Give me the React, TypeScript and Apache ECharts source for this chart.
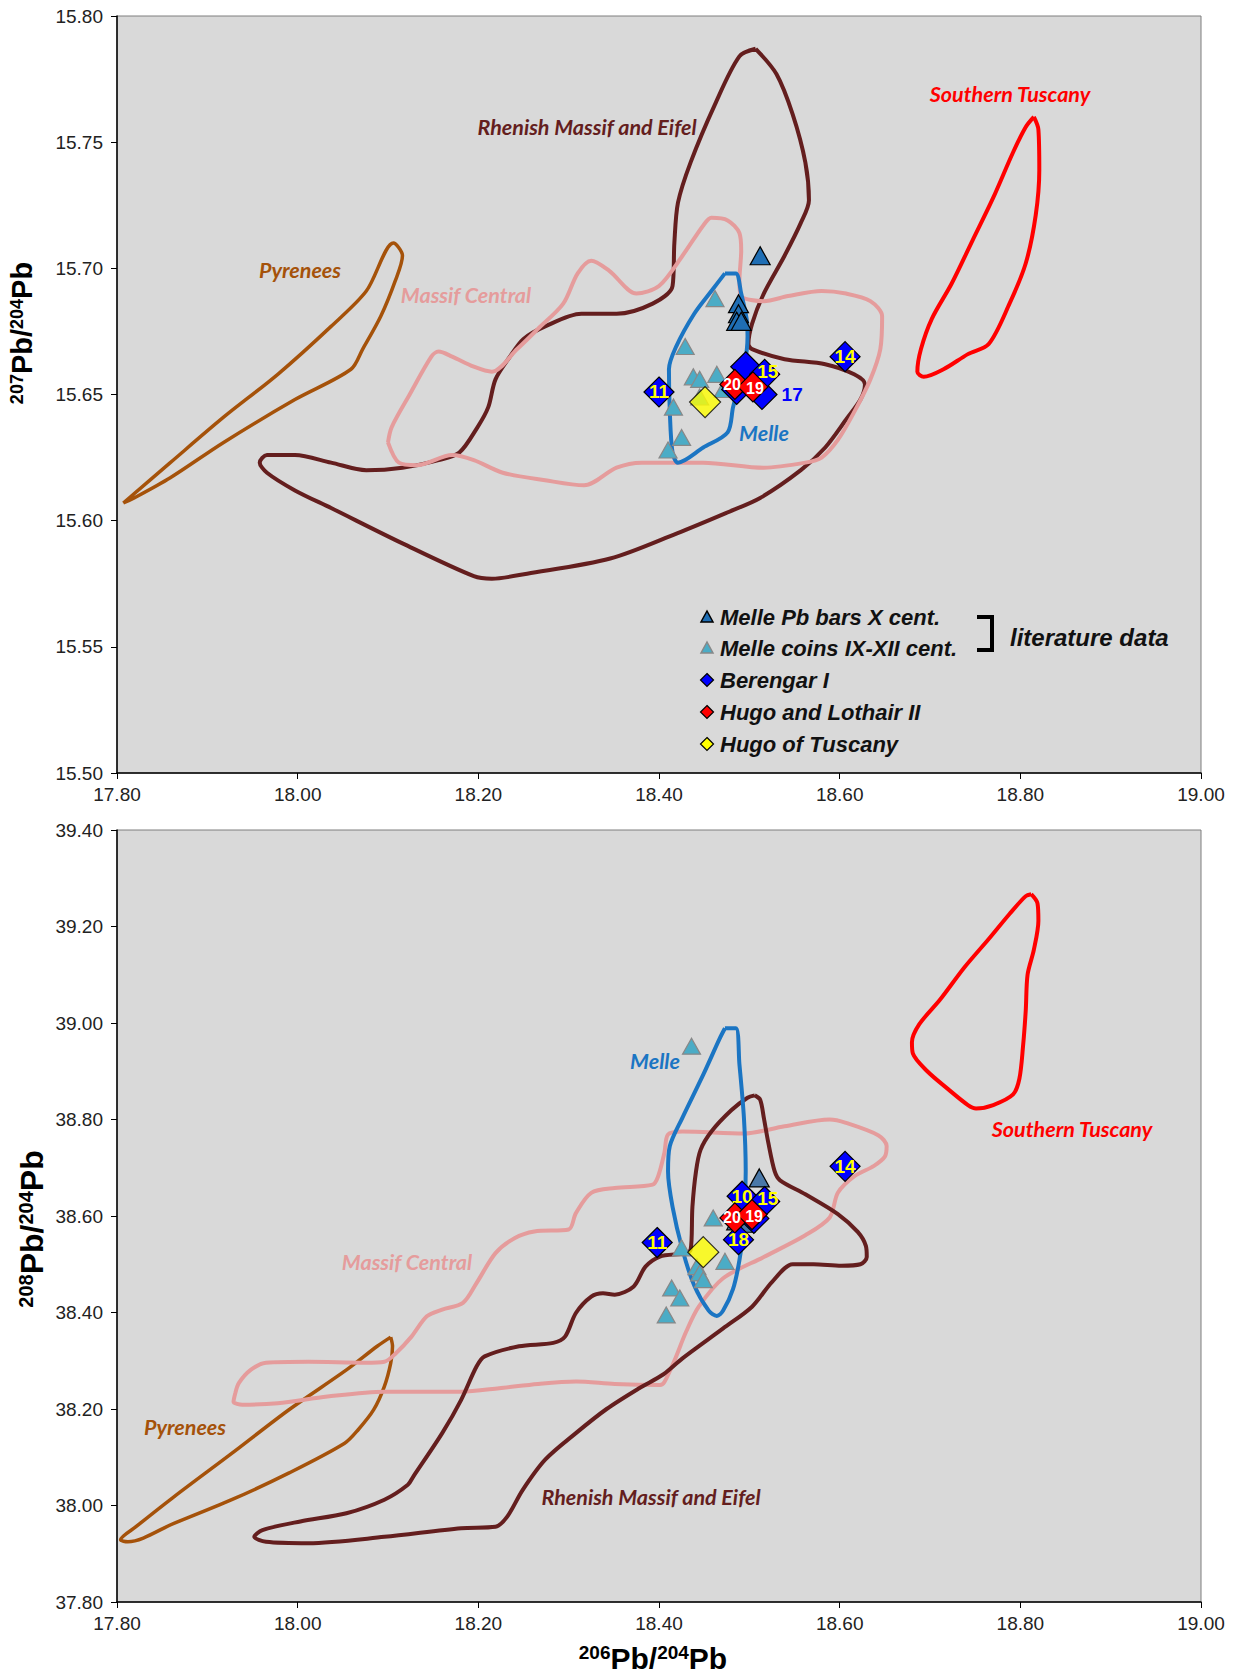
import React, { useEffect, useRef } from "react";
import * as echarts from "echarts";

// ---------- data ----------
const xMin = 17.8, xMax = 19.0, xStep = 0.2;
const yTopMin = 15.5, yTopMax = 15.8, yTopStep = 0.05;
const yBotMin = 37.8, yBotMax = 39.4, yBotStep = 0.2;

// Top panel (206/204 vs 207/204) regions
const rhenishTop = [[18.507,15.787],[18.530,15.777],[18.548,15.761],[18.562,15.742],[18.566,15.727],[18.557,15.718],[18.539,15.705],[18.516,15.690],[18.503,15.678],[18.499,15.670],[18.503,15.668],[18.539,15.664],[18.584,15.662],[18.616,15.658],[18.628,15.654],[18.623,15.648],[18.607,15.640],[18.584,15.629],[18.557,15.620],[18.512,15.609],[18.474,15.603],[18.420,15.595],[18.346,15.585],[18.254,15.579],[18.215,15.577],[18.195,15.578],[18.116,15.591],[18.037,15.605],[17.997,15.612],[17.966,15.619],[17.958,15.623],[17.966,15.626],[17.997,15.626],[18.037,15.623],[18.076,15.620],[18.116,15.621],[18.156,15.624],[18.179,15.627],[18.199,15.637],[18.211,15.645],[18.219,15.656],[18.235,15.665],[18.250,15.672],[18.274,15.677],[18.314,15.682],[18.353,15.682],[18.393,15.686],[18.415,15.693],[18.417,15.710],[18.421,15.726],[18.435,15.742],[18.462,15.765],[18.489,15.784]];
const massifCentralTop = [[18.100,15.631],[18.104,15.637],[18.124,15.650],[18.148,15.665],[18.156,15.667],[18.171,15.665],[18.195,15.661],[18.215,15.659],[18.243,15.668],[18.266,15.676],[18.294,15.686],[18.310,15.698],[18.325,15.703],[18.345,15.699],[18.375,15.690],[18.400,15.693],[18.426,15.705],[18.449,15.717],[18.458,15.720],[18.476,15.719],[18.489,15.714],[18.491,15.707],[18.489,15.695],[18.491,15.689],[18.516,15.687],[18.543,15.689],[18.580,15.691],[18.607,15.690],[18.634,15.687],[18.647,15.681],[18.645,15.668],[18.634,15.656],[18.616,15.643],[18.598,15.632],[18.580,15.625],[18.562,15.623],[18.516,15.621],[18.449,15.623],[18.381,15.623],[18.353,15.621],[18.317,15.614],[18.274,15.616],[18.227,15.619],[18.195,15.624],[18.171,15.626],[18.132,15.622],[18.112,15.623]];
const melleTop = [[18.473,15.698],[18.485,15.698],[18.491,15.690],[18.497,15.680],[18.498,15.673],[18.495,15.662],[18.489,15.654],[18.482,15.645],[18.476,15.635],[18.449,15.629],[18.421,15.623],[18.415,15.627],[18.412,15.643],[18.411,15.660],[18.419,15.669],[18.439,15.682],[18.458,15.691]];
const pyreneesTop = [[17.807,15.607],[17.859,15.623],[17.918,15.641],[17.978,15.658],[18.037,15.677],[18.076,15.691],[18.106,15.710],[18.116,15.705],[18.108,15.695],[18.092,15.681],[18.072,15.668],[18.059,15.660],[17.997,15.648],[17.918,15.631],[17.859,15.617],[17.819,15.609]];
const tuscanyTop = [[18.815,15.760],[18.820,15.755],[18.821,15.739],[18.817,15.721],[18.806,15.702],[18.788,15.686],[18.765,15.670],[18.742,15.666],[18.715,15.660],[18.693,15.657],[18.686,15.659],[18.690,15.668],[18.702,15.680],[18.724,15.694],[18.747,15.711],[18.770,15.728],[18.792,15.746],[18.806,15.756]];

// Bottom panel (206/204 vs 208/204) regions
const pyreneesBot = [[18.103,38.349],[18.105,38.330],[18.103,38.295],[18.096,38.247],[18.084,38.198],[18.067,38.157],[18.052,38.129],[17.990,38.067],[17.927,38.012],[17.863,37.963],[17.812,37.925],[17.804,37.929],[17.821,37.956],[17.863,38.018],[17.927,38.108],[17.990,38.198],[18.054,38.281],[18.088,38.330]];
const massifCentralBot = [[17.931,38.233],[17.935,38.254],[17.948,38.281],[17.965,38.296],[18.012,38.298],[18.075,38.296],[18.096,38.298],[18.109,38.316],[18.126,38.350],[18.143,38.392],[18.160,38.406],[18.183,38.420],[18.198,38.461],[18.219,38.523],[18.240,38.554],[18.262,38.568],[18.300,38.572],[18.308,38.606],[18.325,38.648],[18.351,38.658],[18.393,38.665],[18.399,38.682],[18.406,38.731],[18.410,38.769],[18.426,38.775],[18.494,38.771],[18.539,38.786],[18.589,38.800],[18.607,38.793],[18.643,38.767],[18.652,38.745],[18.650,38.723],[18.638,38.704],[18.616,38.682],[18.598,38.648],[18.589,38.597],[18.562,38.560],[18.516,38.515],[18.471,38.471],[18.444,38.412],[18.430,38.360],[18.417,38.300],[18.406,38.256],[18.401,38.250],[18.351,38.252],[18.308,38.257],[18.266,38.252],[18.223,38.243],[18.181,38.236],[18.139,38.236],[18.096,38.236],[18.033,38.226],[17.978,38.212],[17.939,38.209],[17.929,38.215]];
const rhenishBot = [[18.506,38.850],[18.512,38.841],[18.516,38.804],[18.521,38.752],[18.528,38.693],[18.534,38.674],[18.562,38.645],[18.598,38.604],[18.620,38.567],[18.629,38.538],[18.630,38.515],[18.623,38.500],[18.602,38.497],[18.571,38.500],[18.548,38.500],[18.525,38.463],[18.503,38.412],[18.471,38.367],[18.426,38.305],[18.405,38.272],[18.378,38.243],[18.342,38.200],[18.308,38.150],[18.274,38.095],[18.249,38.032],[18.232,37.977],[18.219,37.956],[18.181,37.953],[18.096,37.935],[18.012,37.922],[17.965,37.925],[17.952,37.935],[17.961,37.949],[18.003,37.967],[18.054,37.984],[18.096,38.012],[18.122,38.043],[18.128,38.060],[18.160,38.150],[18.181,38.219],[18.198,38.288],[18.207,38.309],[18.245,38.330],[18.283,38.337],[18.296,38.350],[18.308,38.399],[18.325,38.433],[18.338,38.440],[18.351,38.437],[18.372,38.454],[18.385,38.495],[18.401,38.516],[18.435,38.530],[18.437,38.619],[18.441,38.693],[18.446,38.737],[18.458,38.775],[18.480,38.819],[18.498,38.845]];
const melleBot = [[18.473,38.989],[18.485,38.989],[18.489,38.915],[18.494,38.804],[18.496,38.693],[18.494,38.582],[18.489,38.508],[18.482,38.449],[18.471,38.404],[18.464,38.393],[18.455,38.404],[18.439,38.456],[18.426,38.530],[18.415,38.619],[18.410,38.693],[18.412,38.745],[18.426,38.804],[18.449,38.893],[18.467,38.967]];
const tuscanyBot = [[18.812,39.267],[18.819,39.248],[18.820,39.212],[18.815,39.152],[18.808,39.100],[18.806,39.026],[18.803,38.952],[18.799,38.885],[18.792,38.852],[18.770,38.830],[18.751,38.823],[18.742,38.830],[18.720,38.863],[18.697,38.900],[18.681,38.937],[18.680,38.960],[18.688,38.997],[18.711,39.048],[18.738,39.115],[18.765,39.174],[18.788,39.226],[18.806,39.263]];

// Samples
const pbBarsTop = [[18.512,15.705],[18.488,15.686],[18.488,15.682],[18.486,15.679],[18.491,15.679]];
const pbBarsBot = [[18.490,38.615],[18.492,38.600],[18.486,38.590],[18.495,38.585],[18.511,38.679]];
const coinsTop = [[18.462,15.688],[18.429,15.669],[18.438,15.657],[18.445,15.656],[18.464,15.658],[18.471,15.652],[18.445,15.649],[18.416,15.645],[18.425,15.633],[18.410,15.628]];
const coinsBot = [[18.436,38.952],[18.460,38.596],[18.425,38.534],[18.473,38.506],[18.442,38.495],[18.445,38.482],[18.449,38.468],[18.414,38.451],[18.423,38.430],[18.408,38.395]];
const berengarIds = ["10","18","11","14","17","15"];
const berengarTop = [[18.496,15.661],[18.486,15.652],[18.400,15.651],[18.606,15.665],[18.514,15.650],[18.517,15.658]];
const berengarBot = [[18.492,38.641],[18.488,38.551],[18.398,38.545],[18.606,38.703],[18.505,38.595],[18.517,38.630]];
const hugoLothairIds = ["20","19"];
const hugoLothairTop = [[18.484,15.654],[18.504,15.653]];
const hugoLothairBot = [[18.484,38.596],[18.503,38.603]];
const hugoTuscanyTop = [[18.451,15.647]];
const hugoTuscanyBot = [[18.449,38.525]];

const hiddenTop = ["10","18"];
const hiddenBot = ["17"];

// ---------- styles ----------
const C_RH = "#641E1E";
const C_MC = "#E59C9C";
const C_ME = "#1B75C3";
const C_PY = "#A5520A";
const C_ST = "#FF0000";
const C_PB = "#1F6EB4";
const C_CO = "#4BACC6";
const TICK_FONT = "Liberation Sans, Arial, sans-serif";
const LAB_FONT = "Lato, 'Open Sans', sans-serif";
const TITLE_FONT = "'Liberation Sans Narrow', 'Liberation Sans', Arial";
const labelShift: Record<string, number[]> = { "20": [-3, 0], "19": [2, 2], "15": [3, -3] };

function region(name: string, data: number[][], color: string, gi: number, width = 4) {
  return {
    type: "line", name, xAxisIndex: gi, yAxisIndex: gi,
    data: [...data, data[0]], symbol: "none", showSymbol: false, smooth: 0.3,
    lineStyle: { color, width }, silent: true, z: 2,
  };
}

function diamondSeries(name: string, ids: string[], pts: number[][], color: string, labelColor: string, gi: number, hidden: string[], z: number, fontSize: number, rightBlue?: string) {
  return {
    type: "scatter", name, xAxisIndex: gi, yAxisIndex: gi, z,
    symbol: "diamond", symbolSize: 30,
    itemStyle: { color, borderColor: "#000", borderWidth: 1.2, opacity: 1 },
    label: { show: true, position: "inside", formatter: "{b}", color: labelColor, fontSize, fontWeight: "bold", fontFamily: TICK_FONT },
    data: pts.map((p, i) => {
      const id = ids[i];
      const item: any = { name: id, value: p };
      if (hidden.includes(id)) item.label = { show: false };
      else if (rightBlue && id === rightBlue) item.label = { show: true, position: "right", distance: 4, color: "#0000FF", fontSize: 19 };
      else if (labelShift[id]) item.label = { show: true, offset: labelShift[id] };
      return item;
    }),
  };
}

function triSeries(name: string, pts: number[][], color: string, border: string, size: number, gi: number, z: number) {
  return {
    type: "scatter", name, xAxisIndex: gi, yAxisIndex: gi, z,
    symbol: "triangle", symbolSize: [size, size - 2],
    itemStyle: { color, borderColor: border, borderWidth: 1.2, opacity: 1 },
    data: pts,
  };
}

function regionLabel(text: string, x: number, y: number, color: string) {
  return {
    type: "text", x, y, z: 50,
    style: { text, fill: color, fontSize: 21.5, fontWeight: "bold", fontStyle: "italic", fontFamily: LAB_FONT, textAlign: "center", textVerticalAlign: "middle", align: "center", verticalAlign: "middle" },
  };
}

function isoTitle(sup1: string, sup2: string, x: number, y: number, big: number, small: number, rotate: boolean) {
  return {
    type: "text", x, y, rotation: rotate ? Math.PI / 2 : 0, z: 50,
    style: {
      text: `{s|${sup1}}{m|Pb/}{s|${sup2}}{m|Pb}`,
      textAlign: "center", textVerticalAlign: "middle", align: "center", verticalAlign: "middle",
      fill: "#000",
      rich: {
        s: { fontSize: small, fontWeight: "bold", fontFamily: TITLE_FONT, verticalAlign: "top", lineHeight: big, fill: "#000" },
        m: { fontSize: big, fontWeight: "bold", fontFamily: TITLE_FONT, verticalAlign: "bottom", lineHeight: big, fill: "#000" },
      },
    },
  };
}

function legendGraphics() {
  const x = 707, tx = 720;
  const rows = [617, 648, 680, 712, 744];
  const texts = ["Melle Pb bars X cent.", "Melle coins IX-XII cent.", "Berengar I", "Hugo and Lothair II", "Hugo of Tuscany"];
  const g: any[] = [];
  const tri = (cx: number, cy: number, fill: string, stroke: string) => ({
    type: "polygon", z: 50, shape: { points: [[cx - 6, cy + 5], [cx + 6, cy + 5], [cx, cy - 6]] }, style: { fill, stroke, lineWidth: 1.5 },
  });
  const dia = (cx: number, cy: number, fill: string) => ({
    type: "polygon", z: 50, shape: { points: [[cx, cy - 6.5], [cx + 6.5, cy], [cx, cy + 6.5], [cx - 6.5, cy]] }, style: { fill, stroke: "#000", lineWidth: 1.2 },
  });
  g.push(tri(x, rows[0], C_PB, "#000"));
  g.push(tri(x, rows[1], C_CO, "#888"));
  g.push(dia(x, rows[2], "#0000FF"));
  g.push(dia(x, rows[3], "#FF0000"));
  g.push(dia(x, rows[4], "#FFFF00"));
  texts.forEach((t, i) => {
    g.push({ type: "text", x: tx, y: rows[i], z: 50, style: { text: t, fill: "#111", fontSize: 22, fontWeight: "bold", fontStyle: "italic", fontFamily: TICK_FONT, textAlign: "left", textVerticalAlign: "middle", align: "left", verticalAlign: "middle" } });
  });
  g.push({ type: "polyline", z: 50, shape: { points: [[977, 617], [992, 617], [992, 650], [977, 650]] }, style: { stroke: "#000", lineWidth: 4, fill: null } });
  g.push({ type: "text", x: 1010, y: 637, z: 50, style: { text: "literature data", fill: "#111", fontSize: 24, fontWeight: "bold", fontStyle: "italic", fontFamily: TICK_FONT, textAlign: "left", textVerticalAlign: "middle", align: "left", verticalAlign: "middle" } });
  return g;
}

function makeAxisX(gi: number) {
  return {
    type: "value", gridIndex: gi, min: xMin, max: xMax, interval: xStep,
    axisLine: { show: true, onZero: false, lineStyle: { color: "#000", width: 1.5 } },
    axisTick: { show: true, length: 6, lineStyle: { color: "#000" } },
    axisLabel: { formatter: (v: number) => v.toFixed(2), fontSize: 19, color: "#222", fontFamily: TICK_FONT, margin: 12 },
    splitLine: { show: false },
  };
}
function makeAxisY(gi: number, min: number, max: number, step: number) {
  return {
    type: "value", gridIndex: gi, min, max, interval: step,
    axisLine: { show: true, onZero: false, lineStyle: { color: "#000", width: 1.5 } },
    axisTick: { show: true, length: 6, lineStyle: { color: "#000" } },
    axisLabel: { formatter: (v: number) => v.toFixed(2), fontSize: 19, color: "#222", fontFamily: TICK_FONT, margin: 14 },
    splitLine: { show: false },
  };
}

export default function App() {
  const ref = useRef<HTMLDivElement>(null);
  useEffect(() => {
    if (!ref.current) return;
    const chart = echarts.init(ref.current, null, { renderer: "svg" });
    const series: any[] = [
      region("Rhenish Massif and Eifel", rhenishTop, C_RH, 0),
      region("Massif Central", massifCentralTop, C_MC, 0),
      region("Pyrenees", pyreneesTop, C_PY, 0, 3.5),
      region("Southern Tuscany", tuscanyTop, C_ST, 0),
      region("Melle", melleTop, C_ME, 0),
      triSeries("Melle coins IX-XII cent.", coinsTop, C_CO, "#888", 18, 0, 3),
      triSeries("Melle Pb bars X cent.", pbBarsTop, C_PB, "#000", 20, 0, 3),
      diamondSeries("Berengar I", berengarIds, berengarTop, "#0000FF", "#FFFF00", 0, hiddenTop, 4, 19, "17"),
      diamondSeries("Hugo and Lothair II", hugoLothairIds, hugoLothairTop, "#FF0000", "#FFFFFF", 0, [], 5, 16),
      { type: "scatter", name: "Hugo of Tuscany", xAxisIndex: 0, yAxisIndex: 0, z: 6, symbol: "diamond", symbolSize: 31, itemStyle: { color: "#FFFF00", borderColor: "#000", borderWidth: 1.2 }, data: hugoTuscanyTop },

      region("Pyrenees", pyreneesBot, C_PY, 1, 3.5),
      region("Massif Central", massifCentralBot, C_MC, 1),
      region("Rhenish Massif and Eifel", rhenishBot, C_RH, 1),
      region("Southern Tuscany", tuscanyBot, C_ST, 1),
      region("Melle", melleBot, C_ME, 1),
      triSeries("Melle coins IX-XII cent.", coinsBot, C_CO, "#888", 18, 1, 3),
      triSeries("Melle Pb bars X cent.", pbBarsBot, "#4A78A8", "#000", 20, 1, 3),
      diamondSeries("Berengar I", berengarIds, berengarBot, "#0000FF", "#FFFF00", 1, hiddenBot, 4, 19),
      diamondSeries("Hugo and Lothair II", hugoLothairIds, hugoLothairBot, "#FF0000", "#FFFFFF", 1, [], 5, 16),
      { type: "scatter", name: "Hugo of Tuscany", xAxisIndex: 1, yAxisIndex: 1, z: 6, symbol: "diamond", symbolSize: 31, itemStyle: { color: "#FFFF00", borderColor: "#000", borderWidth: 1.2 }, data: hugoTuscanyBot },
    ];

    const graphic: any[] = [
      regionLabel("Rhenish Massif and Eifel", 587, 127, C_RH),
      regionLabel("Southern Tuscany", 1010, 94, C_ST),
      regionLabel("Pyrenees", 300, 270, C_PY),
      regionLabel("Massif Central", 466, 295, C_MC),
      regionLabel("Melle", 764, 433, C_ME),
      regionLabel("Melle", 655, 1061, C_ME),
      regionLabel("Southern Tuscany", 1072, 1129, C_ST),
      regionLabel("Massif Central", 407, 1262, C_MC),
      regionLabel("Pyrenees", 185, 1427, C_PY),
      regionLabel("Rhenish Massif and Eifel", 651, 1497, C_RH),
      isoTitle("207", "204", 22, 333, 29, 18, true),
      isoTitle("208", "204", 32, 1229, 32, 20, true),
      isoTitle("206", "204", 653, 1658, 30, 19, false),
      ...legendGraphics(),
    ];

    chart.setOption({
      animation: false,
      backgroundColor: "#FFFFFF",
      grid: [
        { left: 117, top: 16, width: 1084, height: 757, show: true, backgroundColor: "#D9D9D9", borderColor: "#7F7F7F", borderWidth: 1 },
        { left: 117, top: 830, width: 1084, height: 772, show: true, backgroundColor: "#D9D9D9", borderColor: "#7F7F7F", borderWidth: 1 },
      ],
      xAxis: [makeAxisX(0), makeAxisX(1)],
      yAxis: [makeAxisY(0, yTopMin, yTopMax, yTopStep), makeAxisY(1, yBotMin, yBotMax, yBotStep)],
      series,
      graphic,
    });
    return () => chart.dispose();
  }, []);
  return <div ref={ref} style={{ position: "absolute", left: 0, top: 0, width: 1235, height: 1673, background: "#fff" }} />;
}
